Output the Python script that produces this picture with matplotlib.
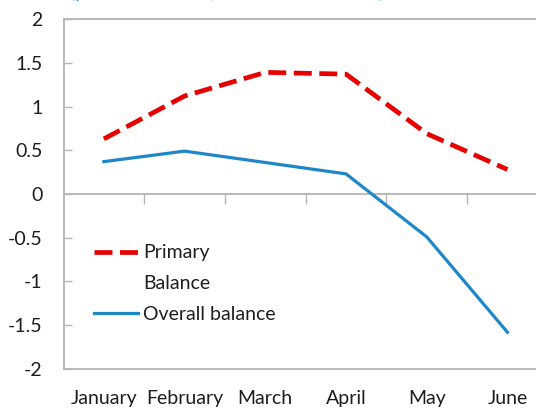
import matplotlib
matplotlib.use('Agg')
import matplotlib.pyplot as plt
from matplotlib.lines import Line2D
from matplotlib.ticker import FuncFormatter

months = ['January', 'February', 'March', 'April', 'May', 'June']
primary_balance = [0.63, 1.12, 1.39, 1.37, 0.69, 0.28]
overall_balance = [0.37, 0.49, 0.36, 0.23, -0.49, -1.58]
y_ticks = [2, 1.5, 1, 0.5, 0, -0.5, -1, -1.5, -2]

red = '#e60000'
blue = '#1d87c8'
grey = '#b4b4b4'
text_col = '#1e1e1e'

plt.rcParams['font.family'] = ['Lato', 'DejaVu Sans']

fig = plt.figure(figsize=(5.36, 4.08), dpi=100)
# plot area runs past the right edge, like in the cropped original
ax = fig.add_axes([0.1185, 0.0956, 0.9035, 0.8578])

x = list(range(len(months)))
l1, = ax.plot(x, primary_balance, color=red, lw=3.4, dashes=(3.8, 1.6),
              solid_capstyle='butt')
l2, = ax.plot(x, overall_balance, color=blue, lw=2.3)

ax.set_xlim(-0.5, len(months) - 0.5)
ax.set_ylim(-2, 2)

# frame
for s in ['top', 'bottom', 'left', 'right']:
    ax.spines[s].set_color(grey)
    ax.spines[s].set_linewidth(1.3)

ax.set_yticks(y_ticks)
ax.yaxis.set_major_formatter(FuncFormatter(lambda v, p: f'{v:g}'))
ax.tick_params(axis='y', direction='in', length=6, width=1, color=grey,
               labelsize=14, labelcolor=text_col, pad=15)

ax.set_xticks(x)
ax.set_xticklabels(months)
ax.tick_params(axis='x', length=0, labelsize=14, labelcolor=text_col, pad=15)

# zero axis with category boundary ticks
ax.axhline(0, color=grey, lw=1.3, zorder=1)
zero_ax = ax.secondary_xaxis(0.5)
zero_ax.set_xticks([i - 0.5 for i in range(1, len(months))])
zero_ax.set_xticklabels([])
for sp in zero_ax.spines.values():
    sp.set_visible(False)
zero_ax.tick_params(direction='in', length=7, width=1, color=grey)

# legend label wraps onto a second line in the original
blank = Line2D([], [], linestyle='none')
leg = ax.legend([l1, blank, l2], ['Primary', 'Balance', 'Overall balance'],
                loc='upper left', bbox_to_anchor=(0.026, 0.406),
                frameon=False, fontsize=14, handlelength=2.3,
                handletextpad=0.25, labelspacing=0.7)
for t in leg.get_texts():
    t.set_color(text_col)

fig.text(0.13, 1.0 + 2 / 408, '(percent of GDP, cumulative to date)',
         color='#1a9ad6', fontsize=14, ha='left', va='baseline')

fig.savefig('out.png', dpi=100)
